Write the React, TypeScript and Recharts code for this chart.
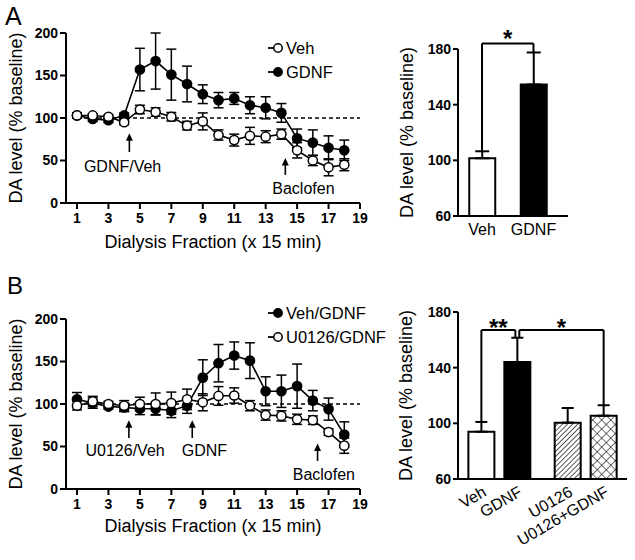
import React from "react";
import {
  Bar,
  BarChart,
  Cell,
  ErrorBar,
  Legend,
  Line,
  LineChart,
  ReferenceDot,
  ReferenceLine,
  XAxis,
  YAxis,
} from "recharts";

const fractions = [1, 2, 3, 4, 5, 6, 7, 8, 9, 10, 11, 12, 13, 14, 15, 16, 17, 18];
const fractionTicks = [1, 3, 5, 7, 9, 11, 13, 15, 17, 19];
const levelTicks = [0, 50, 100, 150, 200];
const barTicks = [60, 100, 140, 180];

// panel A time course
const vehA = [103, 103, 101.5, 95, 110, 107, 101.5, 91, 96, 80, 74, 79, 78, 81, 62, 50, 42, 45];
const vehAErr = [3, 2, 2, 3, 5, 5, 5, 5, 10, 6, 7, 10, 7, 6, 9, 6, 10, 7];
const gdnfA = [103, 99, 97.5, 103, 157, 167, 151, 140, 128, 121, 123, 115, 112, 106, 76, 71, 65, 62];
const gdnfAErr = [3, 3, 3, 3, 25, 33, 30, 21, 11, 9, 7, 10, 13, 11, 11, 15, 14, 12];

// panel B time course
const vehGdnfB = [105.5, 101, 97, 96, 94.5, 94.5, 92, 98, 131, 148, 157, 151, 115, 115, 121, 104, 94, 64];
const vehGdnfBErr = [8, 6, 3, 5, 7, 7, 8, 9, 21, 22, 16, 21, 17, 19, 26, 12, 13, 15];
const u0126B = [98, 103, 100, 98, 100, 100, 101, 105.5, 102, 109.5, 110, 98, 87, 86, 82, 81, 67, 51];
const u0126BErr = [5, 6, 3, 6, 8, 13, 13, 12, 10, 11, 9, 6, 6, 6, 6, 5, 4, 9];

// summary bars
const groupsA = ["Veh", "GDNF"];
const meansA = [101.5, 154.5];
const errsA = [5, 23];

const groupsB = ["Veh", "GDNF", "U0126", "U0126+GDNF"];
const meansB = [94, 144, 100.5, 105.5];
const errsB = [7, 17.5, 10.5, 7.5];

const dataA = fractions.map((f, i) => ({
  fraction: f,
  veh: vehA[i],
  vehErr: vehAErr[i],
  gdnf: gdnfA[i],
  gdnfErr: gdnfAErr[i],
}));

const dataB = fractions.map((f, i) => ({
  fraction: f,
  vehGdnf: vehGdnfB[i],
  vehGdnfErr: vehGdnfBErr[i],
  u0126: u0126B[i],
  u0126Err: u0126BErr[i],
}));

// second pair of bars in B sits after a gap
const posA = groupsA.map((_, i) => i);
const posB = groupsB.map((_, i) => i + (i >= 2 ? 0.4 : 0));

const barDataA = groupsA.map((name, i) => ({ pos: posA[i], name, mean: meansA[i], err: [0, errsA[i]] }));
const barDataB = groupsB.map((name, i) => ({ pos: posB[i], name, mean: meansB[i], err: [0, errsB[i]] }));

const axisStyle = { stroke: "#000", strokeWidth: 2 };
const boldTick = { fontSize: 14, fontWeight: 700, fill: "#000" };
const yTitle = "DA level (% baseline)";

function Arrow(props: any) {
  const x1 = Number(props.x1);
  const y1 = Number(props.y1);
  const x2 = Number(props.x2);
  const y2 = Number(props.y2);
  return (
    <g>
      <line x1={x1} y1={y1} x2={x2} y2={y2 + 6} stroke="#000" strokeWidth={1.6} />
      <path d={`M${x2},${y2} L${x2 - 3.5},${y2 + 7.5} L${x2 + 3.5},${y2 + 7.5} Z`} fill="#000" />
    </g>
  );
}

function LegendBox({ items }: { items: { label: string; open: boolean }[] }) {
  return (
    <div style={{ fontSize: 16.5, color: "#000", whiteSpace: "nowrap" }}>
      {items.map((it) => (
        <div key={it.label} style={{ display: "flex", alignItems: "center", height: 24 }}>
          <svg width={16} height={12}>
            <line x1={0} y1={6} x2={10} y2={6} stroke="#000" strokeWidth={1.8} />
            <circle cx={10} cy={6} r={4.2} fill={it.open ? "#fff" : "#000"} stroke="#000" strokeWidth={1.5} />
          </svg>
          <span style={{ marginLeft: 2 }}>{it.label}</span>
        </div>
      ))}
    </div>
  );
}

type Series = { key: string; errKey: string; name: string; open: boolean };
type Note = { x: number; y: number; text: string };
type Pointer = { x: number; from: number; to: number };

function TimeCourse(props: {
  data: any[];
  series: Series[];
  legend: { label: string; open: boolean }[];
  legendTop: number;
  notes: Note[];
  arrows: Pointer[];
  top: number;
  height: number;
  titleOffset: number;
}) {
  const { data, series, legend, legendTop, notes, arrows, top, height, titleOffset } = props;
  return (
    <LineChart width={380} height={height} data={data} margin={{ top, right: 20, bottom: 0, left: 0 }}>
      <XAxis
        dataKey="fraction"
        type="number"
        domain={[0.3, 19]}
        ticks={fractionTicks}
        interval={0}
        allowDataOverflow
        axisLine={axisStyle}
        tickLine={axisStyle}
        tickSize={6}
        tickMargin={4}
        tick={boldTick}
        height={height - top - 170}
        label={{
          value: "Dialysis Fraction (x 15 min)",
          position: "insideBottom",
          offset: titleOffset,
          fontSize: 18,
          fill: "#000",
        }}
      />
      <YAxis
        type="number"
        domain={[0, 200]}
        ticks={levelTicks}
        interval={0}
        width={66}
        axisLine={axisStyle}
        tickLine={axisStyle}
        tickSize={6}
        tickMargin={2}
        tick={boldTick}
        label={{
          value: yTitle,
          angle: -90,
          position: "insideLeft",
          offset: 16,
          fontSize: 18,
          fill: "#000",
          style: { textAnchor: "middle" },
        }}
      />
      <ReferenceLine
        segment={[{ x: 1, y: 100 }, { x: 19, y: 100 }]}
        stroke="#000"
        strokeWidth={1.3}
        strokeDasharray="4 3"
      />
      {series.map((s) => (
        <Line
          key={s.key}
          dataKey={s.key}
          name={s.name}
          type="linear"
          stroke="#000"
          strokeWidth={1.6}
          dot={{ r: 4.6, fill: s.open ? "#fff" : "#000", stroke: "#000", strokeWidth: 1.5 }}
          activeDot={false}
          isAnimationActive={false}
        >
          <ErrorBar dataKey={s.errKey} width={5} stroke="#000" strokeWidth={1.5} isAnimationActive={false} />
        </Line>
      ))}
      {arrows.map((a, i) => (
        <ReferenceLine
          key={"arrow" + i}
          segment={[{ x: a.x, y: a.from }, { x: a.x, y: a.to }]}
          shape={(p: any) => <Arrow {...p} />}
        />
      ))}
      {notes.map((n) => (
        <ReferenceDot
          key={n.text}
          x={n.x}
          y={n.y}
          r={0}
          fill="none"
          stroke="none"
          label={{ value: n.text, position: "center", fontSize: 16, fill: "#000" }}
        />
      ))}
      <Legend
        layout="vertical"
        align="center"
        verticalAlign="middle"
        wrapperStyle={{ left: 268, top: legendTop, width: 130, height: 48 }}
        content={() => <LegendBox items={legend} />}
      />
    </LineChart>
  );
}

function SlantTick(props: any) {
  const { x, y, payload } = props;
  const label = groupsB[posB.indexOf(payload.value)];
  const ax = Number(x) + 6;
  const ay = Number(y) + 16;
  return (
    <text x={ax} y={ay} transform={`rotate(-30 ${ax} ${ay})`} textAnchor="end" fontSize={16} fill="#000">
      {label}
    </text>
  );
}

function SummaryA() {
  const top = meansA.map((m, i) => m + errsA[i]);
  const bracket = 184;
  return (
    <BarChart width={255} height={260} data={barDataA} margin={{ top: 49, right: 67, bottom: 0, left: 0 }}>
      <XAxis
        dataKey="pos"
        type="number"
        domain={[-0.466, 1.67]}
        ticks={posA}
        interval={0}
        allowDataOverflow
        axisLine={axisStyle}
        tickLine={false}
        tickSize={0}
        tickMargin={8}
        tick={{ fontSize: 16, fill: "#000" }}
        tickFormatter={(v: number) => groupsA[posA.indexOf(v)]}
        height={44}
      />
      <YAxis
        type="number"
        domain={[60, 180]}
        ticks={barTicks}
        interval={0}
        width={78}
        axisLine={axisStyle}
        tickLine={axisStyle}
        tickSize={5}
        tickMargin={2}
        tick={boldTick}
        label={{
          value: yTitle,
          angle: -90,
          position: "insideLeft",
          offset: 27,
          fontSize: 18,
          fill: "#000",
          style: { textAnchor: "middle" },
        }}
      />
      <Bar dataKey="mean" barSize={26} stroke="#000" strokeWidth={2} isAnimationActive={false}>
        {barDataA.map((d, i) => (
          <Cell key={d.name} fill={i === 0 ? "#fff" : "#000"} />
        ))}
        <ErrorBar dataKey="err" width={7} stroke="#000" strokeWidth={2} isAnimationActive={false} />
      </Bar>
      <ReferenceLine ifOverflow="visible" stroke="#000" strokeWidth={2}
        segment={[{ x: posA[0], y: top[0] }, { x: posA[0], y: bracket }]} />
      <ReferenceLine ifOverflow="visible" stroke="#000" strokeWidth={2}
        segment={[{ x: posA[0], y: bracket }, { x: posA[1], y: bracket }]} />
      <ReferenceLine ifOverflow="visible" stroke="#000" strokeWidth={2}
        segment={[{ x: posA[1], y: bracket }, { x: posA[1], y: top[1] }]} />
      <ReferenceDot
        ifOverflow="visible"
        x={(posA[0] + posA[1]) / 2}
        y={187.5}
        r={0}
        fill="none"
        stroke="none"
        label={{ value: "*", position: "center", fontSize: 24, fontWeight: 700, fill: "#000" }}
      />
    </BarChart>
  );
}

function SummaryB() {
  const top = meansB.map((m, i) => m + errsB[i]);
  const bracket = 167;
  const notch = 0.055;
  const lines = [
    [{ x: posB[0], y: top[0] }, { x: posB[0], y: bracket }],
    [{ x: posB[0], y: bracket }, { x: posB[1] - notch, y: bracket }],
    [{ x: posB[1] - notch, y: bracket }, { x: posB[1] - notch, y: top[1] }],
    [{ x: posB[1] + notch, y: top[1] }, { x: posB[1] + notch, y: bracket }],
    [{ x: posB[1] + notch, y: bracket }, { x: posB[3], y: bracket }],
    [{ x: posB[3], y: bracket }, { x: posB[3], y: top[3] }],
  ];
  const fills = ["#fff", "#000", "url(#hatch)", "url(#cross)"];
  return (
    <BarChart width={255} height={290} data={barDataB} margin={{ top: 42, right: 8, bottom: 0, left: 0 }}>
      <defs>
        <pattern id="hatch" patternUnits="userSpaceOnUse" width={3.6} height={3.6} patternTransform="rotate(45)">
          <rect width={3.6} height={3.6} fill="#fff" />
          <line x1={0} y1={0} x2={0} y2={3.6} stroke="#000" strokeWidth={1.3} />
        </pattern>
        <pattern id="cross" patternUnits="userSpaceOnUse" width={6.4} height={6.4} patternTransform="rotate(45)">
          <rect width={6.4} height={6.4} fill="#fff" />
          <line x1={0} y1={0} x2={0} y2={6.4} stroke="#000" strokeWidth={1.1} />
          <line x1={0} y1={0} x2={6.4} y2={0} stroke="#000" strokeWidth={1.1} />
        </pattern>
      </defs>
      <XAxis
        dataKey="pos"
        type="number"
        domain={[-0.65, 4.05]}
        ticks={posB}
        interval={0}
        allowDataOverflow
        axisLine={axisStyle}
        tickLine={false}
        tickSize={0}
        tickMargin={0}
        tick={(p: any) => <SlantTick {...p} />}
        height={81}
      />
      <YAxis
        type="number"
        domain={[60, 180]}
        ticks={barTicks}
        interval={0}
        width={78}
        axisLine={axisStyle}
        tickLine={axisStyle}
        tickSize={5}
        tickMargin={2}
        tick={boldTick}
        label={{
          value: yTitle,
          angle: -90,
          position: "insideLeft",
          offset: 26,
          fontSize: 18,
          fill: "#000",
          style: { textAnchor: "middle" },
        }}
      />
      <Bar dataKey="mean" barSize={26} stroke="#000" strokeWidth={2} isAnimationActive={false}>
        {barDataB.map((d, i) => (
          <Cell key={d.name} fill={fills[i]} />
        ))}
        <ErrorBar dataKey="err" width={6} stroke="#000" strokeWidth={2} isAnimationActive={false} />
      </Bar>
      {lines.map((seg, i) => (
        <ReferenceLine key={"br" + i} ifOverflow="visible" stroke="#000" strokeWidth={2} segment={seg} />
      ))}
      <ReferenceDot
        ifOverflow="visible"
        x={(posB[0] + posB[1] - notch) / 2}
        y={169}
        r={0}
        fill="none"
        stroke="none"
        label={{ value: "**", position: "center", fontSize: 24, fontWeight: 700, fill: "#000" }}
      />
      <ReferenceDot
        ifOverflow="visible"
        x={(posB[1] + notch + posB[3]) / 2}
        y={169}
        r={0}
        fill="none"
        stroke="none"
        label={{ value: "*", position: "center", fontSize: 24, fontWeight: 700, fill: "#000" }}
      />
    </BarChart>
  );
}

export default function App() {
  return (
    <div
      style={{
        position: "absolute",
        left: 0,
        top: 0,
        width: 635,
        height: 560,
        background: "#fff",
        color: "#000",
        fontFamily: '"Liberation Sans", Arial, sans-serif',
      }}
    >
      <div style={{ position: "absolute", left: 0, top: 0 }}>
        <TimeCourse
          data={dataA}
          series={[
            { key: "gdnf", errKey: "gdnfErr", name: "GDNF", open: false },
            { key: "veh", errKey: "vehErr", name: "Veh", open: true },
          ]}
          legend={[
            { label: "Veh", open: true },
            { label: "GDNF", open: false },
          ]}
          legendTop={36}
          notes={[
            { x: 3.9, y: 43.5, text: "GDNF/Veh" },
            { x: 15.4, y: 17, text: "Baclofen" },
          ]}
          arrows={[
            { x: 4.33, from: 60, to: 82 },
            { x: 14.25, from: 33, to: 53 },
          ]}
          top={33}
          height={260}
          titleOffset={12}
        />
      </div>
      <div style={{ position: "absolute", left: 380, top: 0 }}>
        <SummaryA />
      </div>
      <div style={{ position: "absolute", left: 0, top: 270 }}>
        <TimeCourse
          data={dataB}
          series={[
            { key: "vehGdnf", errKey: "vehGdnfErr", name: "Veh/GDNF", open: false },
            { key: "u0126", errKey: "u0126Err", name: "U0126/GDNF", open: true },
          ]}
          legend={[
            { label: "Veh/GDNF", open: false },
            { label: "U0126/GDNF", open: true },
          ]}
          legendTop={31}
          notes={[
            { x: 4.06, y: 45, text: "U0126/Veh" },
            { x: 9.1, y: 45, text: "GDNF" },
            { x: 16.7, y: 17.6, text: "Baclofen" },
          ]}
          arrows={[
            { x: 4.3, from: 60, to: 81 },
            { x: 8.33, from: 60, to: 81 },
            { x: 16.3, from: 33, to: 53.5 },
          ]}
          top={49}
          height={290}
          titleOffset={28}
        />
      </div>
      <div style={{ position: "absolute", left: 380, top: 270 }}>
        <SummaryB />
      </div>
      <div style={{ position: "absolute", left: 5, top: 3.7, fontSize: 25, lineHeight: "25px" }}>A</div>
      <div style={{ position: "absolute", left: 7, top: 273.7, fontSize: 24, lineHeight: "24px" }}>B</div>
    </div>
  );
}
